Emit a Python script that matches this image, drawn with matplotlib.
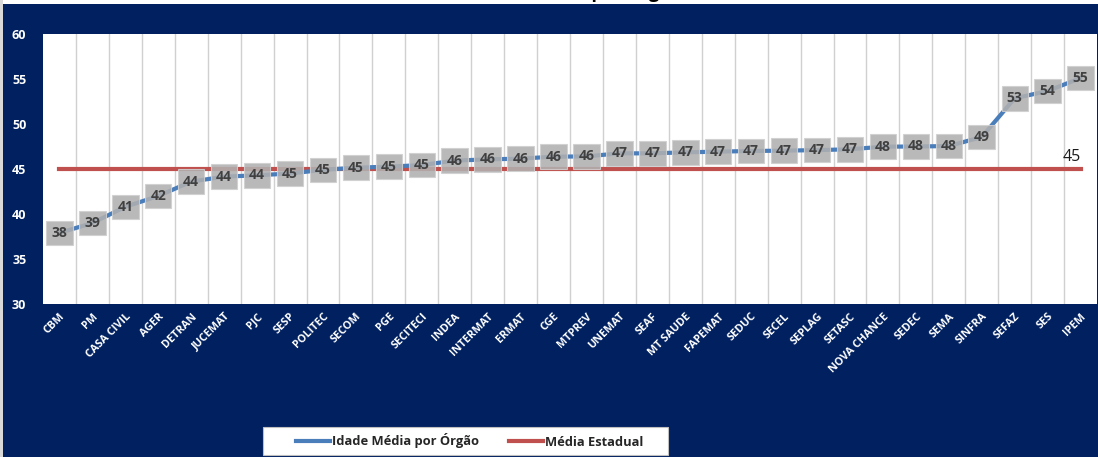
import matplotlib
matplotlib.use("Agg")
import matplotlib.pyplot as plt
from matplotlib.patches import Rectangle
from matplotlib.lines import Line2D

orgaos = ["CBM", "PM", "CASA CIVIL", "AGER", "DETRAN", "JUCEMAT", "PJC", "SESP",
          "POLITEC", "SECOM", "PGE", "SECITECI", "INDEA", "INTERMAT", "ERMAT", "CGE",
          "MTPREV", "UNEMAT", "SEAF", "MT SAUDE", "FAPEMAT", "SEDUC", "SECEL", "SEPLAG",
          "SETASC", "NOVA CHANCE", "SEDEC", "SEMA", "SINFRA", "SEFAZ", "SES", "IPEM"]
idade_media = [37.9, 39.0, 40.8, 42.0, 43.6, 44.15, 44.3, 44.5,
               44.9, 45.15, 45.26, 45.44, 45.93, 46.07, 46.15, 46.37,
               46.4, 46.74, 46.74, 46.85, 46.93, 47.0, 47.04, 47.1,
               47.19, 47.48, 47.5, 47.55, 48.55, 52.85, 53.67, 55.1]
rotulos = [38, 39, 41, 42, 44, 44, 44, 45, 45, 45, 45, 45, 46, 46, 46, 46,
           46, 47, 47, 47, 47, 47, 47, 47, 47, 48, 48, 48, 49, 53, 54, 55]
media_estadual = 45
yticks = [30, 35, 40, 45, 50, 55, 60]

NAVY = "#002060"
BLUE = "#4A7EBB"
RED = "#C0504D"
FONT = "Open Sans"

fig = plt.figure(figsize=(10.98, 4.57), dpi=100, facecolor=NAVY)

# white strips (top and left) of the cropped screenshot
fig.patches.append(Rectangle((0, 1 - 4 / 457), 1, 4 / 457, transform=fig.transFigure,
                             facecolor="white", edgecolor="none", zorder=0))
fig.patches.append(Rectangle((0, 0), 3 / 1098, 1, transform=fig.transFigure,
                             facecolor="#D9D9D9", edgecolor="none", zorder=0))
fig.text(0.5 + 30 / 1098, 1 + 1.5 / 457, "Idade Média por Órgão", ha="center",
         va="baseline", fontsize=13, fontweight="bold", color="black", family=FONT)

ax = fig.add_axes([43 / 1098, 1 - 304 / 457, (1097 - 43) / 1098, (304 - 34) / 457])
ax.set_facecolor("white")
n = len(orgaos)
x = list(range(n))

ax.plot(x, idade_media, color=BLUE, lw=3, zorder=3, solid_capstyle="round")
ax.plot([0, n - 1], [media_estadual] * 2, color=RED, lw=3, zorder=2)

for xi, yi, lab in zip(x, idade_media, rotulos):
    ax.text(xi, yi, str(lab), ha="center", va="center", fontsize=10,
            fontweight="bold", color="#404040", family=FONT, zorder=4,
            bbox=dict(boxstyle="square,pad=0.38", facecolor="#B0B0B0",
                      edgecolor="#D0D0D0", lw=0.8, alpha=0.88))

ax.annotate(str(media_estadual), xy=(n - 1, media_estadual), xytext=(-6, 3),
            textcoords="offset points", ha="center", va="bottom",
            fontsize=11.5, color="#1A1A1A", family=FONT, zorder=5)

ax.set_xlim(-0.5, n - 0.5)
ax.set_ylim(30, 60)
ax.set_yticks(yticks)
ax.set_yticklabels([str(t) for t in yticks], color="white", fontweight="bold",
                   fontsize=9, family=FONT)
ax.tick_params(axis="y", length=0, pad=12)

ax.set_xticks(x)
ax.set_xticklabels(orgaos, rotation=45, ha="right", va="top", rotation_mode="anchor",
                   color="white", fontweight="bold", fontsize=7.8, family=FONT)
ax.tick_params(axis="x", length=0, pad=5)

for b in range(1, n):
    ax.axvline(b - 0.5, color="#D0D0D0", lw=1, zorder=1)

for s in ax.spines.values():
    s.set_visible(False)

# legend box
fig.patches.append(Rectangle((263 / 1098, 1 - 455 / 457), (668 - 263) / 1098, 28 / 457,
                             transform=fig.transFigure, facecolor="white",
                             edgecolor="#BFBFBF", lw=0.8, zorder=1))
handles = [Line2D([], [], color=BLUE, lw=3), Line2D([], [], color=RED, lw=3)]
leg = fig.legend(handles, ["Idade Média por Órgão", "Média Estadual"],
                 loc="center", bbox_to_anchor=(470 / 1098, 1 - 441 / 457), ncol=2,
                 frameon=False, handlelength=2.6, handletextpad=0.2, columnspacing=2.3,
                 prop=dict(family=FONT, size=9.3, weight="bold"))
for t in leg.get_texts():
    t.set_color("#262626")
leg.set_zorder(2)

fig.savefig("out.png", dpi=100, facecolor=NAVY)
